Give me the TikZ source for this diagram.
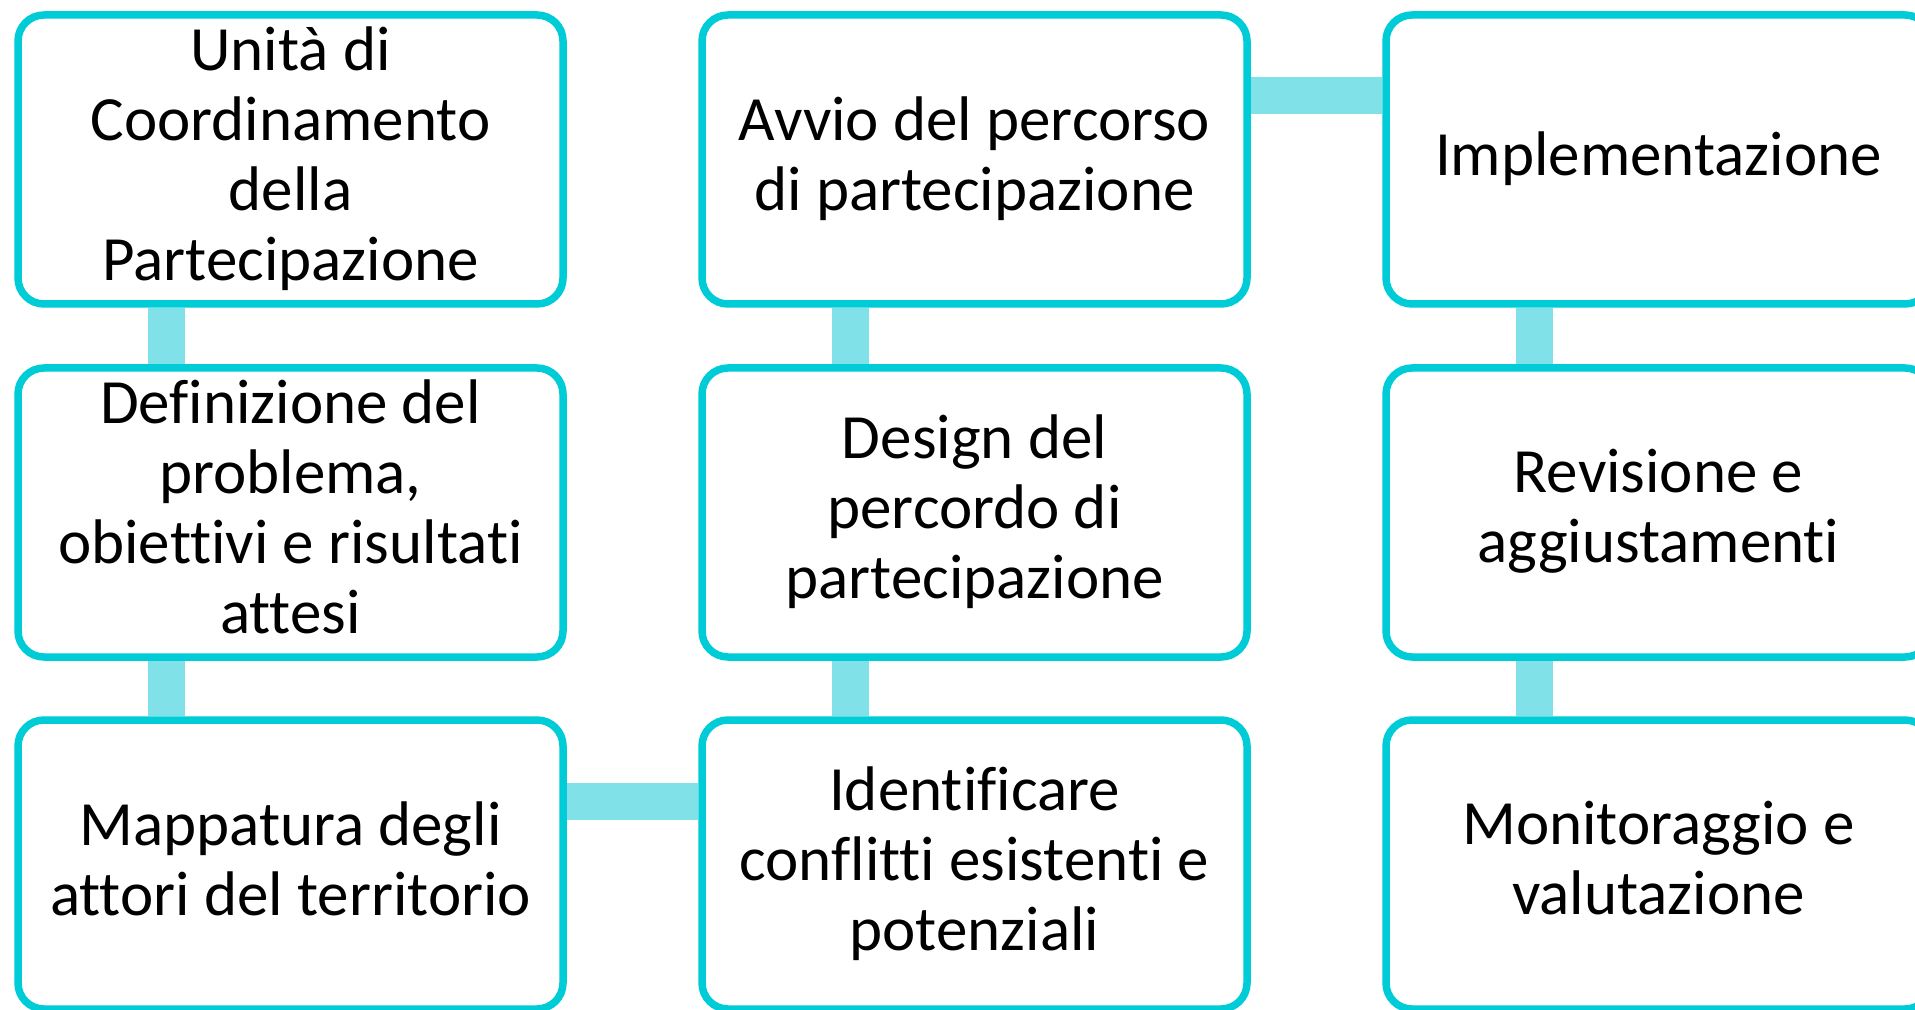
\documentclass[tikz,border=0pt]{standalone}
\usepackage{fontspec}
\setmainfont{Carlito}[Ligatures=NoCommon]
\usetikzlibrary{backgrounds}
\definecolor{boxcyan}{RGB}{0,204,216}
\definecolor{linkcyan}{RGB}{128,226,232}
\newcommand{\lstrut}{\rule[-6.3pt]{0pt}{24.8pt}}
\tikzset{
  stagebox/.style={draw=boxcyan, line width=3.75pt, fill=white, rounded corners=13pt,
    minimum width=272.5pt, minimum height=144.5pt, inner sep=0pt, align=center,
    font=\fontsize{31.5pt}{35pt}\selectfont, text=black},
  link/.style={draw=linkcyan, line width=18.5pt}
}
\begin{document}
\begin{tikzpicture}[x=0.5pt,y=-0.5pt]
\useasboundingbox (0,0) rectangle (1915,1010);
\begin{scope}
\clip (0,0) rectangle (1915,1010);
\node[stagebox] (b11) at (290.5,159.5) {\lstrut Unità di\\\lstrut Coordinamento\\\lstrut della\\\lstrut Partecipazione};
\node[stagebox] (b21) at (290.5,512.5) {\lstrut Definizione del\\\lstrut problema,\\\lstrut obiettivi e risultati\\\lstrut attesi};
\node[stagebox] (b31) at (290.5,864.5) {\lstrut Mappatura degli\\\lstrut attori del territorio};
\node[stagebox] (b12) at (974.5,159.5) {\lstrut Avvio del percorso\\\lstrut di partecipazione};
\node[stagebox] (b22) at (974.5,512.5) {\lstrut Design del\\\lstrut percordo di\\\lstrut partecipazione};
\node[stagebox] (b32) at (974.5,864.5) {\lstrut Identificare\\\lstrut conflitti esistenti e\\\lstrut potenziali};
\node[stagebox] (b13) at (1658.5,159.5) {\lstrut Implementazione};
\node[stagebox] (b23) at (1658.5,512.5) {\lstrut Revisione e\\\lstrut aggiustamenti};
\node[stagebox] (b33) at (1658.5,864.5) {\lstrut Monitoraggio e\\\lstrut valutazione};
\end{scope}
\coordinate (k1) at (166,0);
\coordinate (k2) at (850,0);
\coordinate (k3) at (1534,0);
\coordinate (h1) at (0,96);
\coordinate (h3) at (0,801);
\begin{pgfonlayer}{background}
\fill[white] (0,0) rectangle (1915,1010);
\draw[link] (b11.south -| k1) -- (b21.north -| k1);
\draw[link] (b21.south -| k1) -- (b31.north -| k1);
\draw[link] (b12.south -| k2) -- (b22.north -| k2);
\draw[link] (b22.south -| k2) -- (b32.north -| k2);
\draw[link] (b13.south -| k3) -- (b23.north -| k3);
\draw[link] (b23.south -| k3) -- (b33.north -| k3);
\draw[link] (b12.east |- h1) -- (b13.west |- h1);
\draw[link] (b31.east |- h3) -- (b32.west |- h3);
\end{pgfonlayer}
\end{tikzpicture}
\end{document}
